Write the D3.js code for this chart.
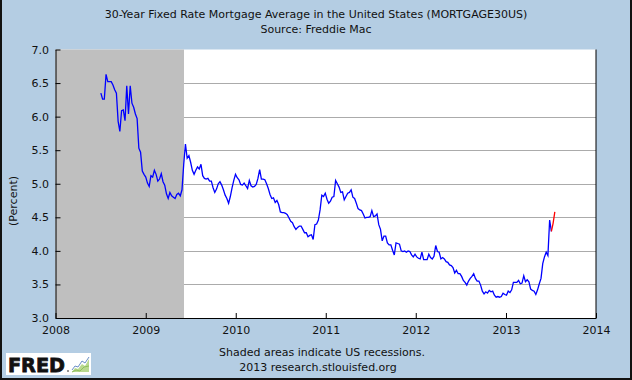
<!DOCTYPE html>
<html>
<head>
<meta charset="utf-8">
<script src="https://cdn.jsdelivr.net/npm/d3@7"></script>
<style>
  html, body { margin: 0; padding: 0; background: #b4cde3; }
  svg { display: block; font-family: "DejaVu Sans", sans-serif; }
</style>
</head>
<body>
<div id="chart"></div>
<script>
// 30-Year Fixed Rate Mortgage Average (weekly, Freddie Mac)

// first weekly observation, following values are one week apart
const firstWeek = new Date(2008, 6, 3);

const rates2008 = [6.35, 6.26, 6.26, 6.63, 6.52, 6.52, 6.52, 6.47, 6.40, 6.35, 5.93, 5.78, 6.09,
    6.10, 5.94, 6.46, 6.04, 6.46, 6.20, 6.14, 6.04, 5.97, 5.53, 5.47, 5.19, 5.14];
const rates2009 = [5.10, 5.01, 4.96, 5.12, 5.10, 5.20, 5.14, 5.04, 5.07, 5.15, 5.03, 4.98, 4.85,
    4.78, 4.87, 4.82, 4.80, 4.78, 4.84, 4.86, 4.82, 4.91, 5.29, 5.59, 5.38, 5.42, 5.32, 5.20,
    5.14, 5.20, 5.25, 5.22, 5.29, 5.12, 5.08, 5.07, 5.08, 5.04, 5.04, 4.94, 4.87, 4.92, 5.00,
    5.03, 4.98, 4.91, 4.83, 4.78, 4.71, 4.81, 4.94, 5.05, 5.14];
const rates2010 = [5.09, 5.06, 4.99, 4.98, 5.01, 4.97, 4.93, 5.05, 4.97, 4.95, 4.96, 4.99, 5.08,
    5.21, 5.07, 5.07, 5.06, 5.00, 4.93, 4.84, 4.78, 4.79, 4.72, 4.75, 4.69, 4.58, 4.57, 4.57,
    4.56, 4.54, 4.49, 4.44, 4.42, 4.36, 4.32, 4.35, 4.37, 4.37, 4.32, 4.27, 4.27, 4.21, 4.23,
    4.24, 4.17, 4.39, 4.40, 4.46, 4.61, 4.83, 4.81, 4.86];
const rates2011 = [4.77, 4.71, 4.74, 4.80, 4.81, 5.05, 5.00, 4.95, 4.87, 4.88, 4.76, 4.81, 4.86,
    4.87, 4.91, 4.80, 4.78, 4.71, 4.63, 4.61, 4.60, 4.55, 4.49, 4.50, 4.50, 4.51, 4.60, 4.51,
    4.52, 4.55, 4.39, 4.32, 4.15, 4.22, 4.22, 4.12, 4.09, 4.09, 4.01, 3.94, 4.12, 4.11, 4.10,
    4.00, 3.99, 4.00, 3.98, 4.00, 3.99, 3.94, 3.91, 3.95];
const rates2012 = [3.91, 3.89, 3.88, 3.98, 3.87, 3.87, 3.87, 3.95, 3.90, 3.88, 3.92, 4.08, 3.99,
    3.98, 3.88, 3.90, 3.88, 3.84, 3.83, 3.79, 3.78, 3.75, 3.67, 3.71, 3.66, 3.66, 3.62, 3.56,
    3.53, 3.49, 3.55, 3.59, 3.62, 3.66, 3.59, 3.55, 3.55, 3.49, 3.40, 3.36, 3.39, 3.37, 3.41,
    3.39, 3.40, 3.34, 3.31, 3.32, 3.31, 3.32, 3.37, 3.35];
const rates2013 = [3.34, 3.40, 3.38, 3.42, 3.53, 3.53, 3.53, 3.56, 3.51, 3.52, 3.63, 3.54, 3.57,
    3.54, 3.43, 3.41, 3.40, 3.35, 3.42, 3.51, 3.59, 3.81, 3.91, 3.98, 3.93, 4.46, 4.29];
// latest weeks, drawn in red
const recentRates = [4.41, 4.58];

const recessionStart = new Date(2007, 11, 1);
const recessionEnd = new Date(2009, 5, 1);

const yTicks = [3.0, 3.5, 4.0, 4.5, 5.0, 5.5, 6.0, 6.5, 7.0];
const yGrid = [3.5, 4.0, 4.5, 5.0, 5.5, 6.0, 6.5];

const titleText = '30-Year Fixed Rate Mortgage Average in the United States (MORTGAGE30US)';
const sourceText = 'Source: Freddie Mac';
const noteText = 'Shaded areas indicate US recessions.';
const creditText = '2013 research.stlouisfed.org';

function createChart() {
    const W = 632, H = 380;
    const left = 55.5, right = 596, top = 49.5, bottom = 318;

    const svg = d3.select('#chart').append('svg')
        .attr('width', W)
        .attr('height', H);

    svg.append('rect').attr('width', W).attr('height', H).attr('fill', '#b4cde3');

    // outer frame (left, right, bottom)
    svg.append('path')
        .attr('d', `M1,0V${H - 1}H${W - 1}V0`)
        .attr('fill', 'none')
        .attr('stroke', '#111')
        .attr('stroke-width', 2);

    // build the weekly series
    const blueVals = [].concat(rates2008, rates2009, rates2010, rates2011, rates2012, rates2013);
    const series = blueVals.map((v, i) => ({ date: d3.timeWeek.offset(firstWeek, i), value: v }));
    const lastIdx = blueVals.length - 1;
    const recent = [series[lastIdx]].concat(recentRates.map((v, i) => ({
        date: d3.timeWeek.offset(firstWeek, lastIdx + 1 + i), value: v })));

    const x = d3.scaleTime()
        .domain([new Date(2008, 0, 1), new Date(2014, 0, 1)])
        .range([left, right]);
    const y = d3.scaleLinear()
        .domain([3, 7])
        .range([bottom, top]);

    // plot area
    svg.append('rect')
        .attr('x', left).attr('y', top)
        .attr('width', right - left).attr('height', bottom - top)
        .attr('fill', '#fff');

    // grid lines
    svg.append('g').selectAll('line')
        .data(yGrid)
        .join('line')
        .attr('x1', left).attr('x2', right)
        .attr('y1', d => Math.round(y(d)) + 0.5).attr('y2', d => Math.round(y(d)) + 0.5)
        .attr('stroke', '#ababab')
        .attr('stroke-width', 1);

    // recession shading
    const recX0 = Math.max(left, x(recessionStart));
    svg.append('rect')
        .attr('x', recX0)
        .attr('y', top)
        .attr('width', Math.ceil(x(recessionEnd)) + 1 - recX0)
        .attr('height', bottom - top)
        .attr('fill', '#bfbfbf');

    const line = d3.line()
        .x(d => x(d.date))
        .y(d => y(d.value));

    svg.append('path')
        .datum(series)
        .attr('d', line)
        .attr('fill', 'none')
        .attr('stroke', '#0000ff')
        .attr('stroke-width', 1.3);

    svg.append('path')
        .datum(recent)
        .attr('d', line)
        .attr('fill', 'none')
        .attr('stroke', '#ff0000')
        .attr('stroke-width', 1.3);

    // right border of the plot
    svg.append('line')
        .attr('x1', right).attr('x2', right)
        .attr('y1', top).attr('y2', bottom)
        .attr('stroke', '#000');

    // axes, ticks pointing inward
    const xAxis = svg.append('g')
        .attr('transform', `translate(0,${bottom})`)
        .call(d3.axisBottom(x)
            .ticks(d3.timeYear.every(1))
            .tickFormat(d3.timeFormat('%Y'))
            .tickSizeInner(-5)
            .tickSizeOuter(0)
            .tickPadding(8.5));

    const yAxis = svg.append('g')
        .attr('transform', `translate(${left},0)`)
        .call(d3.axisLeft(y)
            .tickValues(yTicks)
            .tickFormat(d3.format('.1f'))
            .tickSizeInner(-5)
            .tickSizeOuter(0)
            .tickPadding(6.5));

    [xAxis, yAxis].forEach(g => {
        g.selectAll('path, line').attr('stroke', '#000');
        g.selectAll('text')
            .attr('fill', '#111')
            .style('font-family', '"DejaVu Sans", sans-serif')
            .style('font-size', '11px');
    });

    // y axis title
    svg.append('text')
        .attr('transform', 'translate(17,201) rotate(-90)')
        .attr('text-anchor', 'middle')
        .attr('fill', '#111')
        .style('font-size', '11px')
        .text('(Percent)');

    // titles
    svg.append('text')
        .attr('x', 316).attr('y', 18)
        .attr('text-anchor', 'middle')
        .attr('fill', '#111')
        .style('font-size', '11px')
        .text(titleText);
    svg.append('text')
        .attr('x', 316).attr('y', 33)
        .attr('text-anchor', 'middle')
        .attr('fill', '#111')
        .style('font-size', '11px')
        .text(sourceText);

    // footer
    svg.append('text')
        .attr('x', 322).attr('y', 356)
        .attr('text-anchor', 'middle')
        .attr('fill', '#111')
        .style('font-size', '11px')
        .text(noteText);
    svg.append('text')
        .attr('x', 318).attr('y', 371)
        .attr('text-anchor', 'middle')
        .attr('fill', '#111')
        .style('font-size', '11px')
        .text(creditText);

    // FRED logo
    const logo = svg.append('g');
    logo.append('rect')
        .attr('x', 6).attr('y', 353)
        .attr('width', 85).attr('height', 22)
        .attr('fill', '#fff');
    logo.append('text')
        .attr('x', 8).attr('y', 372)
        .attr('fill', '#111')
        .attr('stroke', '#111')
        .attr('stroke-width', 0.8)
        .attr('textLength', 57)
        .attr('lengthAdjust', 'spacingAndGlyphs')
        .style('font-family', '"DejaVu Sans", sans-serif')
        .style('font-weight', 'bold')
        .style('font-size', '19px')
        .text('FRED');
    logo.append('circle').attr('cx', 68).attr('cy', 371).attr('r', 0.8).attr('fill', '#111');
    logo.append('path')
        .attr('d', 'M72,372L75,368L78,369L82,364L85,366L89,359V372Z')
        .attr('fill', '#b9d98f');
    logo.append('path')
        .attr('d', 'M72,370L75,366L78,367L82,361L85,363L89,357')
        .attr('fill', 'none')
        .attr('stroke', '#6b8fc7')
        .attr('stroke-width', 1);
    logo.append('path')
        .attr('d', 'M72,372L76,370L80,371L84,367L89,366')
        .attr('fill', 'none')
        .attr('stroke', '#8fbf5a')
        .attr('stroke-width', 1);
}

createChart();
</script>
</body>
</html>
